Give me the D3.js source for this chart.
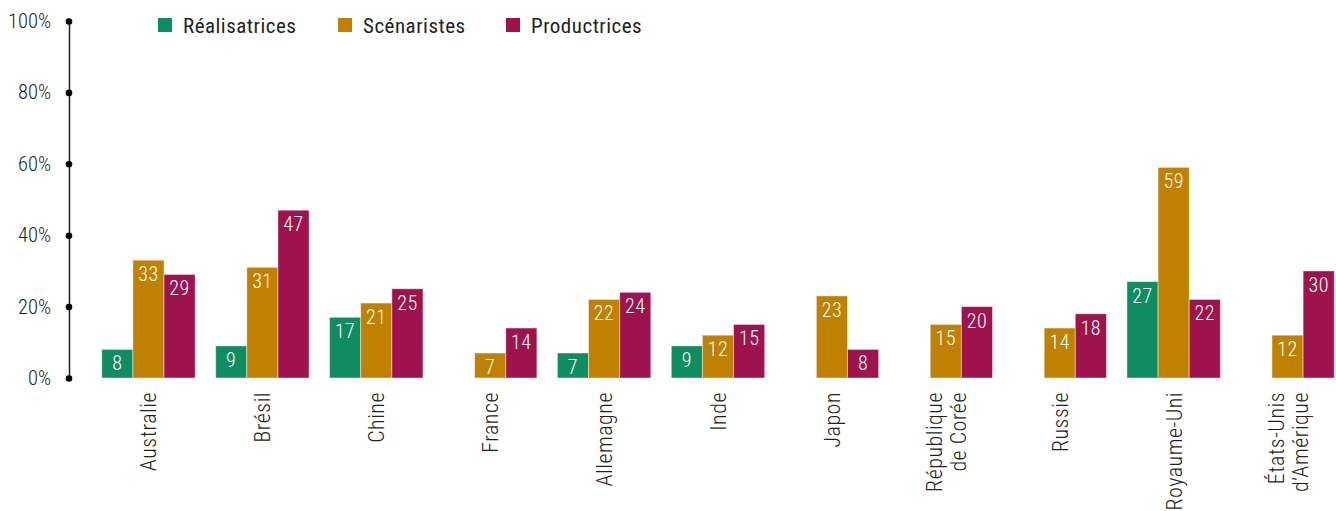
<!DOCTYPE html>
<html><head><meta charset="utf-8">
<script src="https://cdn.jsdelivr.net/npm/d3@7"></script>
<style>
body{margin:0;background:#fff;}
</style></head>
<body><svg id="chart" width="1336" height="511"></svg>
<script>
const categories = ["Australie","Brésil","Chine","France","Allemagne","Inde","Japon","République\nde Corée","Russie","Royaume-Uni","États-Unis\nd’Amérique"];
const seriesNames = ["Réalisatrices","Scénaristes","Productrices"];
const realisatrices = [8,9,17,null,7,9,null,null,null,27,null];
const scenaristes = [33,31,21,7,22,12,23,15,14,59,12];
const productrices = [29,47,25,14,24,15,8,20,18,22,30];
const yTicks = [0,20,40,60,80,100];
const colors = ["#0f8c62","#c08000","#9e134d"];

const series = [realisatrices, scenaristes, productrices];
const svg = d3.select("#chart");
const textColor = "#231f20";

// pick a condensed font that is available
function measure(family, stretch, weight){
  const t = svg.append("text").attr("font-size",20).attr("font-family",family)
    .style("font-stretch",stretch).attr("font-weight",weight).text("Réalisatrices Australie");
  const w = t.node().getComputedTextLength(); t.remove(); return w;
}
let font = {family:'"DejaVu Sans Condensed",sans-serif', stretch:"normal", weight:400, light:400};
const mono = measure("monospace","normal",400);
if (Math.abs(measure('"Roboto Condensed",monospace',"normal",400)-mono)>1) {
  font = {family:'"Roboto Condensed",sans-serif', stretch:"normal", weight:400, light:300};
} else if (measure('"Open Sans"',"condensed",400) < measure('"Open Sans"',"normal",400)-5) {
  font = {family:'"Open Sans",sans-serif', stretch:"condensed", weight:400, light:300};
} else if (measure('"Noto Sans"',"condensed",400) < measure('"Noto Sans"',"normal",400)-5) {
  font = {family:'"Noto Sans",sans-serif', stretch:"condensed", weight:400, light:300};
}
function applyFont(sel, light){
  sel.attr("font-family",font.family).style("font-stretch",font.stretch)
     .attr("font-weight", light ? font.light : font.weight);
  return sel;
}

const x0 = d3.scaleBand().domain(categories).range([91.5,1344.5]).paddingInner(0.18).paddingOuter(0.09);
const x1 = d3.scaleBand().domain(seriesNames).range([0,x0.bandwidth()]);
const y = d3.scaleLinear().domain([0,100]).range([378,21]);

// y axis
const axisX = 69;
const yAxis = svg.append("g").attr("transform",`translate(${axisX},0)`)
  .call(d3.axisLeft(y).tickValues(yTicks).tickSize(0).tickPadding(18).tickFormat(d=>d+"%"));
yAxis.select(".domain").attr("stroke",textColor).attr("stroke-width",1.5);
applyFont(yAxis.selectAll(".tick text").attr("font-size",20.5).attr("fill",textColor), true);
yAxis.selectAll(".tick").append("circle").attr("r",3.3).attr("fill","#000");

// bars
categories.forEach((c,i)=>{
  const g = svg.append("g").attr("transform",`translate(${x0(c)},0)`);
  series.forEach((s,j)=>{
    const v = s[i];
    if(v==null) return;
    g.append("rect").attr("x",x1(seriesNames[j])).attr("y",y(v))
      .attr("width",x1.bandwidth()).attr("height",y(0)-y(v))
      .attr("fill",colors[j]).attr("stroke","rgba(255,255,255,0.45)").attr("stroke-width",1);
    applyFont(g.append("text").attr("x",x1(seriesNames[j])+x1.bandwidth()/2).attr("y",y(v)+21)
      .attr("text-anchor","middle").attr("fill","#fff").attr("font-size",20)
      .style("letter-spacing","0.5px").text(v), true);
  });
});

// x labels
categories.forEach(c=>{
  const lines = c.split("\n");
  const cx = x0(c)+x0.bandwidth()/2;
  const lh = 24;
  lines.forEach((l,k)=>{
    const off = (k-(lines.length-1)/2)*lh;
    applyFont(svg.append("text")
      .attr("transform",`translate(${cx+off+8},392) rotate(-90)`)
      .attr("text-anchor","end").attr("font-size",22).style("letter-spacing","0.5px")
      .attr("fill",textColor).text(l), true);
  });
});

// legend
const legX = [158,338,506];
seriesNames.forEach((n,j)=>{
  svg.append("rect").attr("x",legX[j]).attr("y",18).attr("width",14).attr("height",14).attr("fill",colors[j]);
  applyFont(svg.append("text").attr("x",legX[j]+25).attr("y",32.5).attr("font-size",21)
    .style("letter-spacing","0.5px").attr("fill",textColor).text(n), false);
});
</script></body></html>
